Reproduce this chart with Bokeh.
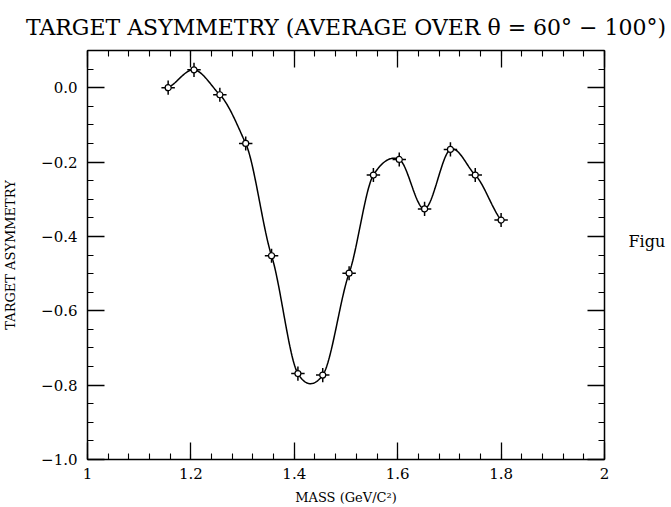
import numpy as np
from bokeh.plotting import figure
from bokeh.models import LinearAxis, FixedTicker, CustomJSTickFormatter
from bokeh.embed import file_html
from bokeh.resources import INLINE

# ---- data ----
mass = [1.156, 1.206, 1.256, 1.306, 1.356, 1.407, 1.455, 1.506,
        1.553, 1.603, 1.652, 1.702, 1.750, 1.800]
asym = [0.000, 0.048, -0.019, -0.150, -0.452, -0.769, -0.773, -0.499,
        -0.235, -0.193, -0.326, -0.166, -0.235, -0.356]
mass_err = [0.013] * len(mass)
asym_err = [0.019] * len(mass)

x_ticks = [1.0, 1.2, 1.4, 1.6, 1.8, 2.0]
y_ticks = [-1.0, -0.8, -0.6, -0.4, -0.2, 0.0]

title_text = "TARGET ASYMMETRY (AVERAGE OVER \u03b8 = 60\u00b0 \u2212 100\u00b0)"
x_title = "MASS (GeV/C\u00b2)"
y_title = "TARGET ASYMMETRY"
side_text = "Figu"          # cut-off caption text at the right edge
side_text_y = [-0.415]

SERIF = "DejaVu Serif"


def cardinal_curve(x, y, tension=0.3, n_per=40):
    """Smooth cubic Hermite curve through the points (cardinal spline)."""
    x = np.asarray(x, float)
    y = np.asarray(y, float)
    n = len(x)
    m = np.zeros(n)
    m[1:-1] = (y[2:] - y[:-2]) / (x[2:] - x[:-2])
    m[0] = (y[1] - y[0]) / (x[1] - x[0])
    m[-1] = (y[-1] - y[-2]) / (x[-1] - x[-2])
    m *= (1 - tension)
    xs, ys = [], []
    for i in range(n - 1):
        h = x[i + 1] - x[i]
        t = np.linspace(0, 1, n_per, endpoint=(i == n - 2))
        h00 = 2 * t ** 3 - 3 * t ** 2 + 1
        h10 = t ** 3 - 2 * t ** 2 + t
        h01 = -2 * t ** 3 + 3 * t ** 2
        h11 = t ** 3 - t ** 2
        xs.extend(x[i] + t * h)
        ys.extend(h00 * y[i] + h10 * h * m[i] + h01 * y[i + 1] + h11 * h * m[i + 1])
    return xs, ys


p = figure(width=671, height=507, x_range=(1.0, 2.0), y_range=(-1.0, 0.1),
           output_backend="svg", toolbar_location=None,
           min_border_left=87, min_border_right=67,
           min_border_top=50, min_border_bottom=47,
           background_fill_color="white", border_fill_color="white")
p.outline_line_color = None
p.xgrid.visible = False
p.ygrid.visible = False

p.title.text = title_text
p.title.text_font = SERIF
p.title.text_font_size = "22px"
p.title.text_font_style = "normal"
p.title.align = "center"
p.title.text_color = "black"
p.title.standoff = 21

xt = FixedTicker(ticks=x_ticks, minor_ticks=list(np.round(np.arange(1.0, 2.0001, 0.04), 3)))
yt = FixedTicker(ticks=y_ticks, minor_ticks=list(np.round(np.arange(-1.0, 0.1001, 0.05), 3)))

xfmt = CustomJSTickFormatter(code="""
    if (Math.abs(tick - Math.round(tick)) < 1e-9) return Math.round(tick).toString();
    return tick.toFixed(1);
""")
yfmt = CustomJSTickFormatter(code="""
    var s = Math.abs(tick).toFixed(1);
    return (tick < -1e-9 ? '\u2212' : '') + s;
""")
blank = CustomJSTickFormatter(code="return '';")


def style_axis(ax, ticker):
    ax.ticker = ticker
    ax.axis_line_color = "black"
    ax.axis_line_width = 1.5
    ax.major_tick_line_color = "black"
    ax.major_tick_line_width = 1.3
    ax.minor_tick_line_color = "black"
    ax.minor_tick_line_width = 1.1
    ax.major_tick_in = 17
    ax.major_tick_out = 0
    ax.minor_tick_in = 6
    ax.minor_tick_out = 0
    ax.major_label_text_font = SERIF
    ax.major_label_text_font_size = "15px"
    ax.major_label_text_color = "black"
    ax.axis_label_text_font = SERIF
    ax.axis_label_text_font_size = "13px"
    ax.axis_label_text_font_style = "normal"
    ax.axis_label_text_color = "black"


style_axis(p.xaxis[0], xt)
p.xaxis[0].formatter = xfmt
p.xaxis[0].axis_label = x_title
p.xaxis[0].major_label_standoff = 8
p.xaxis[0].axis_label_standoff = 8

style_axis(p.yaxis[0], yt)
p.yaxis[0].formatter = yfmt
p.yaxis[0].axis_label = y_title
p.yaxis[0].major_label_standoff = 10
p.yaxis[0].axis_label_standoff = 20

top_ax = LinearAxis(formatter=blank)
style_axis(top_ax, xt)
top_ax.major_label_standoff = 0
p.add_layout(top_ax, "above")
right_ax = LinearAxis(formatter=blank)
style_axis(right_ax, yt)
right_ax.major_label_standoff = 0
p.add_layout(right_ax, "right")

# caption fragment to the right of the frame (an unlined axis carrying one label)
cap_ax = LinearAxis(ticker=FixedTicker(ticks=side_text_y, minor_ticks=[]),
                    formatter=CustomJSTickFormatter(code="return '%s';" % side_text))
cap_ax.axis_line_color = None
cap_ax.major_tick_line_color = None
cap_ax.minor_tick_line_color = None
cap_ax.major_tick_in = 0
cap_ax.major_tick_out = 0
cap_ax.major_label_standoff = 24
cap_ax.major_label_text_font = SERIF
cap_ax.major_label_text_font_size = "16px"
cap_ax.major_label_text_color = "black"
p.add_layout(cap_ax, "right")

# smooth curve through the measured points
cx, cy = cardinal_curve(mass, asym)
p.line(cx, cy, line_color="black", line_width=1.5)

# error bars
m = np.array(mass)
a = np.array(asym)
me = np.array(mass_err)
ae = np.array(asym_err)
p.segment(m - me, a, m + me, a, line_color="black", line_width=1.5)
p.segment(m, a - ae, m, a + ae, line_color="black", line_width=1.5)
p.scatter(mass, asym, marker="circle", size=6, fill_color="white",
          line_color="black", line_width=1.2)

open("out.html", "w").write(file_html(p, INLINE))
